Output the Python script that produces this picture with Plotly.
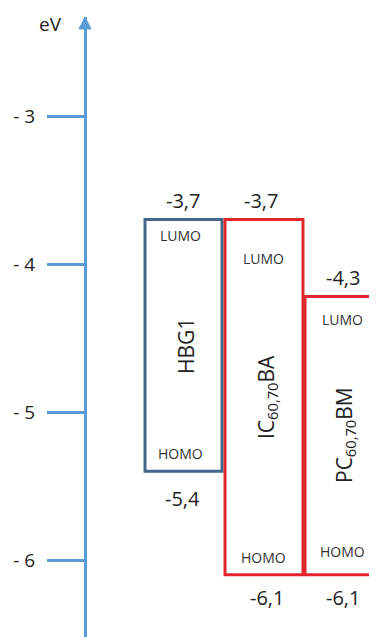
import plotly.graph_objects as go

# ---- data ----
materials = ["HBG1", "IC<sub>60,70</sub>BA", "PC<sub>60,70</sub>BM"]
lumo = [-3.7, -3.7, -4.22]
homo = [-5.4, -6.1, -6.1]
lumo_labels = ["-3,7", "-3,7", "-4,3"]
homo_labels = ["-5,4", "-6,1", "-6,1"]
y_ticks = [-3, -4, -5, -6]
y_tick_text = ["- 3", "- 4", "- 5", "- 6"]

# ---- layout constants ----
PAGE_OFF = 8            # default body margin of the html page
WIN_W, WIN_H = 377, 637
W, H = WIN_W - PAGE_OFF, WIN_H - PAGE_OFF
TOP = 17                # arrow tip (window px)
PX_PER_EV = 148.0


def ev(py):
    return -3.0 - (py - 116) / PX_PER_EV


y_top = ev(TOP)
y_bot = ev(WIN_H)
AX_X = 85
FONT = "Open Sans"
AXIS_BLUE = "#5B9BD5"
box_colors = ["#44678C", "#E3262B", "#E3262B"]
box_x0 = [145, 225, 305]
box_x1 = [222, 303, 440]
lumo_val_x = [183, 261, 343]
homo_val_x = [182, 267, 343]
homo_val_shift = [27, 23, 23]
word_x = [180, 263, 342]
lumo_word_shift = [16, 39, 23]
homo_word_shift = [18, 17, 23]
name_x = [186, 267, 345]
name_py = [346, 397, 435]

fig = go.Figure()
fig.add_trace(go.Scatter(x=[PAGE_OFF, WIN_W], y=[y_bot, y_top], mode="markers",
                         marker=dict(opacity=0), hoverinfo="skip", showlegend=False))

shapes = []
annotations = []
for i in range(len(materials)):
    shapes.append(dict(type="rect", xref="x", yref="y",
                       x0=box_x0[i], x1=box_x1[i], y0=homo[i], y1=lumo[i],
                       line=dict(color=box_colors[i], width=3)))
    annotations.append(dict(x=lumo_val_x[i], y=lumo[i], xref="x", yref="y",
                            text=lumo_labels[i], showarrow=False, yshift=19,
                            font=dict(size=20, color="#222", family=FONT)))
    annotations.append(dict(x=homo_val_x[i], y=homo[i], xref="x", yref="y",
                            text=homo_labels[i], showarrow=False, yshift=-homo_val_shift[i],
                            font=dict(size=20, color="#222", family=FONT)))
    annotations.append(dict(x=word_x[i], y=lumo[i], xref="x", yref="y",
                            text="LUMO", showarrow=False, yshift=-lumo_word_shift[i],
                            font=dict(size=14, color="#333", family=FONT)))
    annotations.append(dict(x=word_x[i], y=homo[i], xref="x", yref="y",
                            text="HOMO", showarrow=False, yshift=homo_word_shift[i],
                            font=dict(size=14, color="#333", family=FONT)))
    annotations.append(dict(x=name_x[i], y=ev(name_py[i]), xref="x", yref="y",
                            text=materials[i], showarrow=False, textangle=-90,
                            font=dict(size=21, color="#222", family=FONT)))

# arrow head on the energy axis
shapes.append(dict(type="path", xref="x", yref="y",
                   path=f"M {AX_X-6},{ev(TOP+12)} L {AX_X},{y_top} L {AX_X+6},{ev(TOP+12)} Z",
                   fillcolor=AXIS_BLUE, line=dict(color=AXIS_BLUE, width=1)))
annotations.append(dict(x=50, y=ev(24), xref="x", yref="y", text="eV", showarrow=False,
                        font=dict(size=19, color="#222", family=FONT)))

fig.update_layout(
    width=W, height=H,
    margin=dict(l=0, r=0, t=TOP - PAGE_OFF, b=0),
    paper_bgcolor="white", plot_bgcolor="white",
    showlegend=False,
    xaxis=dict(range=[PAGE_OFF, WIN_W], visible=False, fixedrange=True),
    yaxis=dict(range=[y_bot, y_top], anchor="free", position=(AX_X - PAGE_OFF) / W,
               showline=True, linecolor=AXIS_BLUE, linewidth=3,
               ticks="outside", ticklen=37, tickwidth=3, tickcolor=AXIS_BLUE,
               ticklabelstandoff=8,
               tickvals=y_ticks, ticktext=y_tick_text, showgrid=False, zeroline=False,
               tickfont=dict(size=19, color="#222", family=FONT)),
    shapes=shapes, annotations=annotations,
)

fig.write_html("out.html")
